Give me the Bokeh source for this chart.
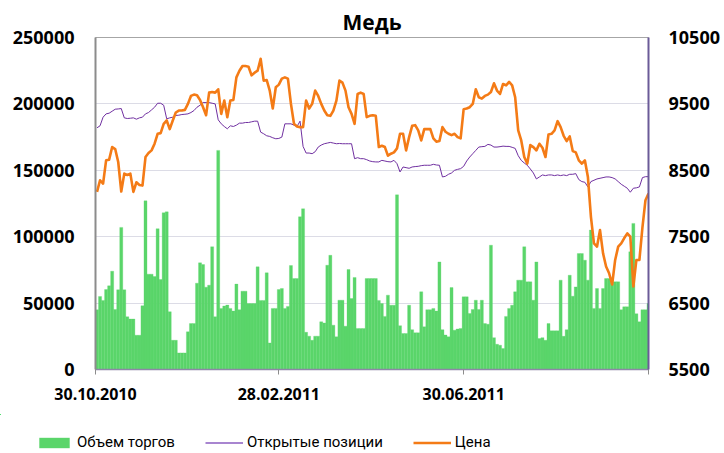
import numpy as np
import pandas as pd
from bokeh.plotting import figure
from bokeh.layouts import column, row
from bokeh.models import (Range1d, LinearAxis, FixedTicker, Legend, LegendItem,
                          BasicTickFormatter)
from bokeh.embed import file_html
from bokeh.resources import INLINE

# ---------------- data ----------------
start_date = "2010-10-30"
end_date = "2011-10-30"
step_days = 2  # one sample per two calendar days

volume = [
    45000, 55000, 52000, 60200, 63000, 74000, 45200, 60000, 107000, 60000,
    39700, 38000, 38000, 25800, 25800, 48000, 127000, 71800, 71800, 70000,
    106000, 67800, 118000, 118700, 43500, 22000, 22000, 12500, 12500, 12500,
    28400, 34600, 34600, 65000, 80300, 79000, 62000, 63500, 92400, 39700,
    165000, 46000, 47800, 48500, 46000, 44000, 64300, 45000, 59000, 59000,
    49700, 49700, 49700, 77300, 52000, 52000, 72800, 20000, 46000, 46000,
    60200, 61000, 46000, 47500, 78300, 68500, 68500, 115000, 121000, 28000,
    25100, 22000, 25100, 25100, 35900, 35000, 78500, 86000, 33400, 24600,
    52200, 52200, 32600, 75300, 53400, 69300, 30900, 30900, 30900,
    68500, 68500, 68500, 68500, 52000, 49700, 40000, 56000, 48400, 48400,
    131500, 33000, 27100, 27100, 48400, 30000, 27600, 27600, 58500, 32100,
    45000, 45000, 46000, 44000, 81000, 30000, 26000, 24600, 61700, 29600,
    30500, 30900, 54700, 54700, 42200, 45200, 52200, 45200, 52200, 34600,
    34100, 93600, 24000, 19000, 18300, 15800, 40000, 46000, 48400, 58500,
    67300, 67300, 92400, 66000, 66000, 52200, 81000, 23300, 24000, 22000,
    34600, 29100, 29100, 29100, 67300, 25000, 30000, 71000, 55200, 62200,
    87300, 87300, 82300, 67300, 105000, 46000, 61000, 46000, 61000, 68500,
    68500, 66000, 66000, 66000, 45000, 47200, 47200, 88600, 110000, 42000,
    35900, 45000, 45000, 49700,
]

open_interest = [
    182000, 183500, 190000, 192500, 193000, 194500, 196000, 196200, 196500, 189500,
    189000, 189200, 189500, 188500, 189500, 190000, 192500, 193500, 195500, 197500,
    200500, 200500, 199000, 188750, 189500, 190000, 191300, 191500, 192000, 192200,
    192500, 193500, 195000, 197500, 199000, 201000, 201000, 201000, 200500, 200000,
    188000, 185000, 183000, 181250, 183500, 183000, 184000, 185500, 185500, 186000,
    186000, 186500, 187000, 187000, 178750, 177500, 176000, 175500, 174500, 173750,
    174000, 175000, 185000, 185000, 185000, 184000, 183000, 187000, 168000, 163000,
    163000, 162500, 164000, 167500, 169000, 170000, 170500, 171000, 170500, 170000,
    170200, 170000, 170000, 170000, 170000, 158750, 159500, 158750, 158750,
    158000, 157000, 156500, 156300, 156300, 157500, 157000, 156500, 156300, 157500,
    155000, 148750, 152500, 152000, 151500, 152500, 152800, 153000, 153500, 153800,
    153800, 153800, 154500, 154000, 153800, 145000, 145500, 147000, 148000, 150000,
    150700, 151250, 153000, 157000, 160000, 162500, 165000, 167500, 167800, 168000,
    169500, 169000, 167500, 167500, 167800, 168200, 168000, 168000, 167300, 166500,
    161000, 157500, 155500, 153800, 151000, 148000, 143500, 145000, 146500, 146000,
    146500, 146500, 146000, 146500, 146000, 146500, 146000, 147000, 147000, 147500,
    143000, 141500, 141000, 137500, 141500, 142500, 143500, 144000, 144500, 145000,
    145000, 144500, 143500, 141500, 139500, 138000, 136500, 133500, 136500, 136800,
    137500, 144500, 145200, 145200,
]

price = [
    8175, 8350, 8300, 8650, 8660, 8850, 8820, 8625, 8180, 8450,
    8430, 8450, 8175, 8320, 8280, 8270, 8700, 8760, 8800, 8900,
    9050, 9060, 9200, 9250, 9120, 9250, 9370, 9400, 9400, 9410,
    9500, 9620, 9640, 9630, 9560, 9450, 9330, 9670, 9680, 9670,
    9720, 9350, 9550, 9300, 9550, 9560, 9900, 10000, 10070, 10070,
    10060, 9930, 9970, 10000, 10180, 9850, 9860, 9700, 9430, 9750,
    9790, 9880, 9900, 9880, 9500, 9200, 9160, 9150, 9150, 9550,
    9430, 9500, 9700, 9620, 9500, 9400, 9330, 9320, 9400, 9550,
    9850, 9820, 9700, 9450, 9350, 9200, 9650, 9670, 9650,
    9300, 9320, 9330, 9320, 8850, 8870, 8850, 8720, 8750, 8770,
    8830, 9050, 9050, 8800, 9000, 9170, 9180, 9100, 8950, 9120,
    9120, 9120, 8980, 8930, 8940, 9150, 9080, 9050, 9030, 9050,
    9000, 8980, 9420, 9430, 9450, 9500, 9720, 9600, 9580, 9620,
    9640, 9680, 9810, 9700, 9650, 9800, 9780, 9830, 9780, 9600,
    9100, 8950, 8700, 8600, 8880, 8850, 8800, 8900, 8840, 8700,
    9040, 9050, 9100, 9240, 9150, 9020, 8940, 9010, 8790, 8770,
    8650, 8600, 8650, 8400, 7800, 7400, 7350, 7600, 7250, 7050,
    6950, 6780, 7150, 7350, 7400, 7480, 7550, 7500, 6750, 7150,
    7150, 7640, 8050, 8150,
]

tick_dates = ["30.10.2010", "28.02.2011", "30.06.2011", "30.10.2011"]
tick_labels = ["30.10.2010", "28.02.2011", "30.06.2011", ""]

series_names = ["Объем торгов", "Открытые позиции", "Цена"]
title_text = "Медь"

# ---------------- helpers ----------------
t0 = pd.Timestamp(start_date)
span = (pd.Timestamp(end_date) - t0).days
tick_pos = [(pd.to_datetime(d, format="%d.%m.%Y") - t0).days for d in tick_dates]


def xs(values):
    return [step_days * i + step_days / 2 for i in range(len(values))]


GREEN = "#5AD56A"
PURPLE = "#7030A0"
ORANGE = "#F47B16"
GRID = "#DCDCE6"
Y_MAX = 250000

p = figure(frame_width=553, frame_height=332,
           x_range=Range1d(0, span), y_range=Range1d(0, Y_MAX),
           output_backend="svg", toolbar_location=None,
           min_border_left=95, min_border_right=76,
           min_border_top=37, min_border_bottom=45,
           title=title_text)
p.extra_y_ranges = {"price": Range1d(5500, 10500)}

p.title.align = "center"
p.title.text_font = "Open Sans"
p.title.text_font_size = "21px"
p.title.text_font_style = "bold"
p.title.standoff = 4
p.title.text_color = "#000000"

p.outline_line_color = "#A6A6A6"
p.outline_line_width = 1
p.background_fill_color = "white"
p.border_fill_color = "white"

bars = p.vbar(x=xs(volume), top=volume, bottom=0, width=step_days,
              fill_color=GREEN, line_color=GREEN, line_width=0.3)
oi = p.line(xs(open_interest), open_interest, line_color=PURPLE, line_width=1)
pr = p.line(xs(price), price, line_color=ORANGE, line_width=2.6,
            y_range_name="price", line_join="round")

# grid
p.xgrid.visible = False
p.ygrid.grid_line_color = GRID
p.ygrid.grid_line_width = 1
p.ygrid.ticker = FixedTicker(ticks=list(np.arange(0, Y_MAX + 1, 50000)))

# left axis
ly = p.yaxis[0]
ly.ticker = FixedTicker(ticks=list(np.arange(0, Y_MAX + 1, 50000)))
ly.formatter = BasicTickFormatter(use_scientific=False)
ly.major_tick_out = 0
ly.major_tick_in = 0
ly.minor_tick_out = 0
ly.minor_tick_in = 0
ly.major_label_standoff = 21
ly.axis_line_color = "#8C8C8C"
ly.axis_line_width = 2
ly.major_label_text_font = "Open Sans"
ly.major_label_text_font_size = "18px"
ly.major_label_text_font_style = "bold"
ly.major_label_text_color = "#000000"

# right axis
ry = LinearAxis(y_range_name="price",
                ticker=FixedTicker(ticks=list(np.arange(5500, 10501, 1000))))
ry.major_tick_out = 0
ry.major_tick_in = 0
ry.minor_tick_out = 0
ry.minor_tick_in = 0
ry.major_label_standoff = 20
ry.axis_line_color = "#6B5B98"
ry.axis_line_width = 2
ry.major_label_text_font = "Open Sans"
ry.major_label_text_font_size = "18px"
ry.major_label_text_font_style = "bold"
ry.major_label_text_color = "#000000"
p.add_layout(ry, "right")

# x axis
xa = p.xaxis[0]
xa.ticker = FixedTicker(ticks=tick_pos)
xa.major_label_overrides = {tp: lab for tp, lab in zip(tick_pos, tick_labels)}
xa.major_tick_out = 5
xa.major_tick_in = 0
xa.minor_tick_out = 0
xa.minor_tick_in = 0
xa.major_tick_line_color = "#8C8C8C"
xa.axis_line_color = "#8E86A8"
xa.axis_line_width = 1.5
xa.major_label_standoff = 13
xa.major_label_text_font = "Open Sans"
xa.major_label_text_font_size = "16px"
xa.major_label_text_font_style = "bold"
xa.major_label_text_color = "#000000"

# ---------- legend strip: a separate borderless figure under the chart ----------
# its ranges lie well away from the data, so only the legend swatches are visible
leg_fig = figure(width=724, height=38,
                 x_range=Range1d(2 * span, 3 * span),
                 y_range=Range1d(-2 * Y_MAX, -Y_MAX),
                 output_backend="svg", toolbar_location=None,
                 x_axis_location=None, y_axis_location=None,
                 min_border=0, outline_line_color=None)
leg_fig.xgrid.visible = False
leg_fig.ygrid.visible = False
leg_fig.background_fill_color = "white"
leg_fig.border_fill_color = "white"
lg_bar = leg_fig.vbar(x=xs(volume), top=volume, bottom=0, width=step_days,
                      fill_color=GREEN, line_color=None)
lg_oi = leg_fig.line(xs(open_interest), open_interest, line_color="#8B5CC0",
                     line_width=1.5)
lg_pr = leg_fig.line(xs(price), price, line_color=ORANGE, line_width=2.6)

legend = Legend(items=[LegendItem(label=series_names[0], renderers=[lg_bar]),
                       LegendItem(label=series_names[1], renderers=[lg_oi]),
                       LegendItem(label=series_names[2], renderers=[lg_pr])],
                orientation="horizontal", location=(35, 1),
                glyph_width=38, glyph_height=13, label_standoff=4, spacing=30,
                padding=0, margin=0, border_line_color=None,
                background_fill_alpha=0,
                label_text_font="Roboto", label_text_font_size="15px",
                label_text_color="#000000")
leg_fig.add_layout(legend, "center")

layout = column(p, row(leg_fig), spacing=0)
open("out.html", "w").write(file_html(layout, INLINE))
